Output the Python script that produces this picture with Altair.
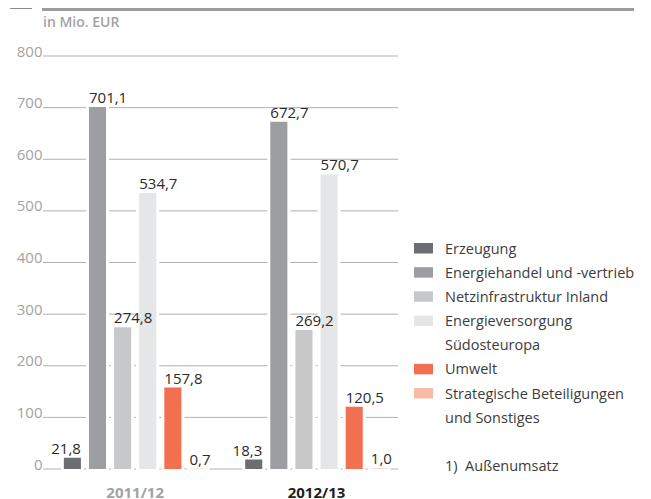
import altair as alt
import pandas as pd

# ---------------- data ----------------
periods = ["2011/12", "2012/13"]
segments = [
    "Erzeugung",
    "Energiehandel und -vertrieb",
    "Netzinfrastruktur Inland",
    "Energieversorgung Südosteuropa",
    "Umwelt",
    "Strategische Beteiligungen und Sonstiges",
]
values_2011 = [21.8, 701.1, 274.8, 534.7, 157.8, 0.7]
values_2012 = [18.3, 672.7, 269.2, 570.7, 120.5, 1.0]
colors = ["#6d6e72", "#9d9ea2", "#c7c8ca", "#e5e6e8", "#f26f50", "#f8bca6"]
y_ticks = [0, 100, 200, 300, 400, 500, 600, 700, 800]
unit_label = "in Mio. EUR"

legend_lines = [
    "Erzeugung",
    "Energiehandel und -vertrieb",
    "Netzinfrastruktur Inland",
    "Energieversorgung",
    "Südosteuropa",
    "Umwelt",
    "Strategische Beteiligungen",
    "und Sonstiges",
    "",
    "1)\u00a0\u00a0Außenumsatz",
]
legend_keys = [
    "Erzeugung",
    "Energiehandel und -vertrieb",
    "Netzinfrastruktur Inland",
    "Energieversorgung Südosteuropa",
    None,
    "Umwelt",
    "Strategische Beteiligungen und Sonstiges",
    None,
    None,
    None,
]

rows = []
for p, vals in zip(periods, [values_2011, values_2012]):
    for s, v in zip(segments, vals):
        rows.append({"period": p, "segment": s, "value": v})
df = pd.DataFrame(rows)

legend_df = pd.DataFrame(
    {"line": legend_lines, "slot": list(range(len(legend_lines))), "segment": legend_keys}
)
ticks_df = pd.DataFrame({"tick": y_ticks})
one = pd.DataFrame({"t": [unit_label]})

FONT = "Open Sans"

# ---------------- scales ----------------
x_scale = alt.Scale(domain=periods, range=[1.5, 364.2], paddingInner=0, paddingOuter=0)
xo_scale = alt.Scale(domain=segments, paddingInner=0.32, paddingOuter=0.77)
y_scale = alt.Scale(domain=[0, 800], nice=False)
color_scale = alt.Scale(domain=segments, range=colors)
slot_scale = alt.Scale(domain=[0, 9], range=[197.5, 415])

x_axis = alt.Axis(
    title=None,
    domain=False,
    ticks=False,
    grid=False,
    labelAngle=0,
    labelFont=FONT,
    labelFontSize=15,
    labelFontWeight="bold",
    labelBaseline="alphabetic",
    labelPadding=28,
    labelColor=alt.condition(
        "datum.value == '2012/13'", alt.value("#1e1e1e"), alt.value("#a3a3a3")
    ),
)

# horizontal grid lines, spanning the plot's own width
grid = alt.Chart(ticks_df).mark_rule(color="#b0b0b0", strokeWidth=1).encode(
    x=alt.value(0),
    x2=alt.value(355),
    y=alt.Y(
        "tick:Q",
        scale=y_scale,
        axis=alt.Axis(
            title=None,
            values=y_ticks,
            grid=False,
            domain=False,
            ticks=False,
            labelFont=FONT,
            labelFontSize=15,
            labelColor="#a3a3a3",
            labelBaseline="alphabetic",
            labelPadding=1,
        ),
    ),
)

base = alt.Chart(df).encode(
    x=alt.X("period:N", scale=x_scale, sort=periods, axis=x_axis),
    xOffset=alt.XOffset("segment:N", scale=xo_scale, sort=segments),
)

white = base.mark_bar(fill="white", stroke="white", strokeWidth=6, opacity=1).encode(
    y=alt.Y("value:Q", scale=y_scale, axis=None)
)

bars = base.mark_bar(opacity=1).encode(
    y=alt.Y("value:Q", scale=y_scale, axis=None),
    color=alt.Color("segment:N", scale=color_scale, legend=None),
)

lab_base = base.transform_calculate(
    label="replace(format(datum.value, '.1f'), '.', ',')"
)
labels_right = lab_base.transform_filter("datum.segment == 'Erzeugung'").mark_text(
    align="right", baseline="alphabetic", dx=8.5, dy=-4, font=FONT, fontSize=15, color="#2b2b2b"
).encode(y=alt.Y("value:Q", scale=y_scale, axis=None), text="label:N")
labels_left = lab_base.transform_filter("datum.segment != 'Erzeugung'").mark_text(
    align="left", baseline="alphabetic", dx=-8.5, dy=-4, font=FONT, fontSize=15, color="#2b2b2b"
).encode(y=alt.Y("value:Q", scale=y_scale, axis=None), text="label:N")

legend_text = alt.Chart(legend_df).mark_text(
    align="left", baseline="alphabetic", font=FONT, fontSize=14.5, color="#3c3c3c"
).encode(
    x=alt.value(402),
    y=alt.Y("slot:Q", scale=slot_scale, axis=None),
    text="line:N",
)
legend_swatch = alt.Chart(legend_df).transform_filter("isValid(datum.segment)").mark_point(
    shape="M-1,-0.5526L1,-0.5526L1,0.5526L-1,0.5526Z",
    filled=True,
    size=361,
    opacity=1,
    strokeWidth=0,
    yOffset=-5.25,
).encode(
    x=alt.value(380.5),
    y=alt.Y("slot:Q", scale=slot_scale, axis=None),
    color=alt.Color("segment:N", scale=color_scale, legend=None),
)

unit_text = alt.Chart(one).mark_text(
    align="left", baseline="alphabetic", font=FONT, fontSize=14, fontWeight=600, color="#a3a3a3"
).encode(x=alt.value(0), y=alt.value(-29), text="t:N")

short_rule = alt.Chart(one).mark_rule(color="#8c8c8c", strokeWidth=1).encode(
    x=alt.value(-33), x2=alt.value(-11), y=alt.value(-47.5)
)
long_rule = alt.Chart(one).mark_rule(color="#9c9c9c", strokeWidth=3).encode(
    x=alt.value(-1), x2=alt.value(594.7), y=alt.value(-46.5)
)

chart = (
    alt.layer(
        grid, white, bars, labels_right, labels_left,
        legend_swatch, legend_text, unit_text, short_rule, long_rule,
    )
    .resolve_scale(y="independent")
    .properties(
        width=355,
        height=413,
        autosize=alt.AutoSizeParams(type="none"),
        padding={"left": 35, "top": 48, "right": 236, "bottom": 30},
    )
    .configure_view(stroke=None)
)

chart.save("out.html", embed_options={"renderer": "svg", "actions": False})
